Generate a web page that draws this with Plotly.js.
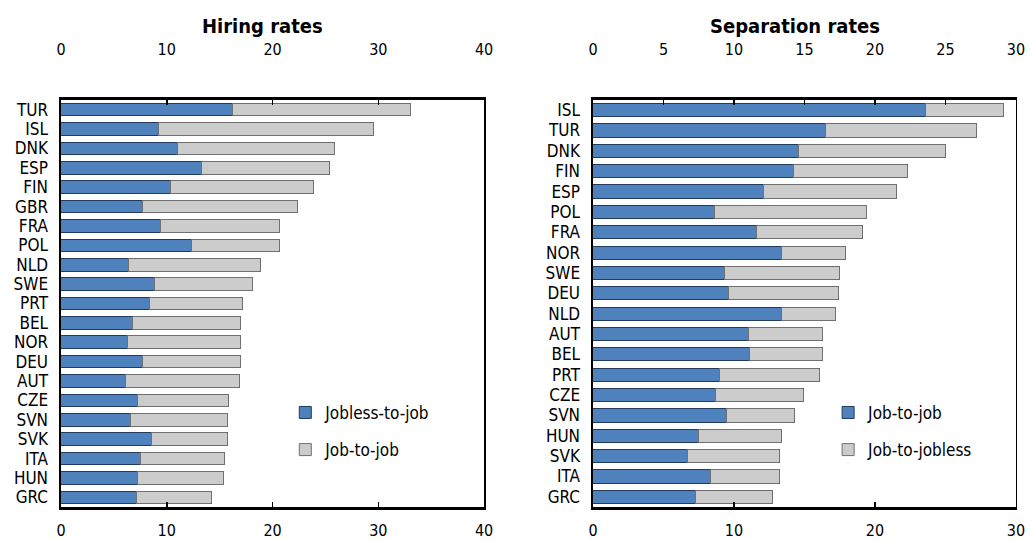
<!DOCTYPE html>
<html><head><meta charset="utf-8">
<script src="https://cdn.plot.ly/plotly-3.0.1.min.js"></script>
<style>body{margin:0;background:#fff} svg text{font-stretch:condensed !important;}</style></head>
<body><div id="c" style="width:1030px;height:541px"></div>
<script>
const hireCountries = ["TUR","ISL","DNK","ESP","FIN","GBR","FRA","POL","NLD","SWE","PRT","BEL","NOR","DEU","AUT","CZE","SVN","SVK","ITA","HUN","GRC"];
const hireJoblessToJob = [16.2,9.2,11.0,13.3,10.4,7.7,9.4,12.3,6.4,8.8,8.4,6.8,6.3,7.7,6.1,7.2,6.6,8.6,7.5,7.2,7.1];
const hireJobToJob = [16.8,20.3,14.9,12.1,13.5,14.7,11.3,8.4,12.5,9.3,8.8,10.2,10.7,9.3,10.8,8.6,9.1,7.1,8.0,8.2,7.1];

const sepCountries = ["ISL","TUR","DNK","FIN","ESP","POL","FRA","NOR","SWE","DEU","NLD","AUT","BEL","PRT","CZE","SVN","HUN","SVK","ITA","GRC"];
const sepJobToJob = [23.6,16.5,14.6,14.2,12.1,8.6,11.6,13.4,9.3,9.6,13.4,11.0,11.1,9.0,8.7,9.5,7.5,6.7,8.3,7.3];
const sepJobToJobless = [5.5,10.7,10.4,8.1,9.4,10.8,7.5,4.5,8.2,7.8,3.8,5.3,5.2,7.1,6.2,4.8,5.9,6.5,4.9,5.4];

const FONT = "DejaVu Sans Condensed, Liberation Sans Narrow, DejaVu Sans, sans-serif";
const BLUE = "#4F81BD", GREY = "#CCCCCC";

const traces = [
  {type:"bar", orientation:"h", y:hireCountries, x:hireJoblessToJob, name:"Jobless-to-job",
   xaxis:"x", yaxis:"y", marker:{color:BLUE, line:{color:"#1F3B5E", width:1}}, legend:"legend", legendgroup:"a"},
  {type:"bar", orientation:"h", y:hireCountries, x:hireJobToJob, name:"Job-to-job",
   xaxis:"x", yaxis:"y", marker:{color:GREY, line:{color:"#707070", width:1}}, legend:"legend", legendgroup:"b"},
  {type:"bar", orientation:"h", y:sepCountries, x:sepJobToJob, name:"Job-to-job",
   xaxis:"x3", yaxis:"y2", marker:{color:BLUE, line:{color:"#1F3B5E", width:1}}, legend:"legend2", legendgroup:"c"},
  {type:"bar", orientation:"h", y:sepCountries, x:sepJobToJobless, name:"Job-to-jobless",
   xaxis:"x3", yaxis:"y2", marker:{color:GREY, line:{color:"#707070", width:1}}, legend:"legend2", legendgroup:"d"},
  // transparent carriers so that the top axes are drawn
  {type:"bar", orientation:"h", y:hireCountries, x:hireJoblessToJob, xaxis:"x2", yaxis:"y",
   marker:{color:"rgba(0,0,0,0)"}, showlegend:false, hoverinfo:"skip"},
  {type:"bar", orientation:"h", y:sepCountries, x:sepJobToJob, xaxis:"x4", yaxis:"y2",
   marker:{color:"rgba(0,0,0,0)"}, showlegend:false, hoverinfo:"skip"}
];

const yDom = [0.0628, 0.8152];
const tickFont = {family:FONT, size:16, color:"#000"};
function xBottom(dom, rng, dt, anchor){
  return {domain:dom, range:rng, dtick:dt, tick0:0, anchor:anchor, side:"bottom",
    ticks:"inside", ticklen:5, tickwidth:1.5, tickcolor:"#000",
    showline:true, linecolor:"#000", linewidth:2.5, showgrid:false, zeroline:false,
    tickfont:tickFont, ticklabelstandoff:7, fixedrange:true};
}
function xTop(over, rng, dt, anchor){
  return {overlaying:over, range:rng, dtick:dt, tick0:0, anchor:anchor, side:"top",
    ticks:"inside", ticklen:5, tickwidth:1.5, tickcolor:"#000",
    showline:true, linecolor:"#000", linewidth:2.5, showgrid:false, zeroline:false,
    tickfont:tickFont, ticklabelstandoff:36, fixedrange:true};
}
function yAx(anchor, cats){
  return {domain:yDom, anchor:anchor, autorange:"reversed", type:"category",
    tickmode:"array", tickvals:cats, ticktext:cats,
    showline:true, mirror:true, linecolor:"#000", linewidth:1.5, ticks:"",
    tickfont:{family:FONT, size:17, color:"#000"}, ticklabelstandoff:8, showgrid:false, fixedrange:true};
}

const layout = {
  width:1030, height:541, margin:{l:0,r:0,t:0,b:0},
  paper_bgcolor:"#fff", plot_bgcolor:"#fff",
  barmode:"stack", bargap:0.35,
  font:{family:FONT, color:"#000"},
  xaxis: xBottom([0.0592,0.470],[0,40],10,"y"),
  xaxis2: xTop("x",[0,40],10,"y"),
  xaxis3: xBottom([0.5757,0.9864],[0,30],10,"y2"),
  xaxis4: xTop("x3",[0,30],5,"y2"),
  yaxis: yAx("x", hireCountries),
  yaxis2: yAx("x3", sepCountries),
  legend:{x:0.277, y:0.27, xanchor:"left", yanchor:"top", bgcolor:"rgba(0,0,0,0)",
    font:{family:FONT, size:17, color:"#000"}, tracegroupgap:12, traceorder:"grouped"},
  legend2:{x:0.804, y:0.27, xanchor:"left", yanchor:"top", bgcolor:"rgba(0,0,0,0)",
    font:{family:FONT, size:17, color:"#000"}, tracegroupgap:12, traceorder:"grouped"},
  annotations:[
    {text:"<b>Hiring rates</b>", x:0.2553, y:1-26/541, xref:"paper", yref:"paper",
     xanchor:"center", yanchor:"middle", showarrow:false, font:{family:FONT, size:20, color:"#000"}},
    {text:"<b>Separation rates</b>", x:0.772, y:1-26/541, xref:"paper", yref:"paper",
     xanchor:"center", yanchor:"middle", showarrow:false, font:{family:FONT, size:20, color:"#000"}}
  ]
};
Plotly.newPlot("c", traces, layout, {displayModeBar:false, staticPlot:true});
</script></body></html>
